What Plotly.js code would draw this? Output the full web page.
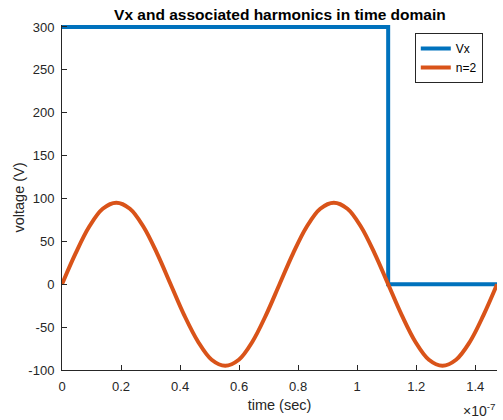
<!DOCTYPE html>
<html>
<head>
<meta charset="utf-8">
<script src="https://cdn.plot.ly/plotly-3.0.1.min.js"></script>
<style>
  html, body { margin: 0; padding: 0; background: #fff; }
  #chart { width: 503px; height: 420px; }
</style>
</head>
<body>
<div id="chart"></div>
<script>
// Time axis is shown in units of 1e-7 s
const timeScale = 1e-7;

// Square wave Vx (time in 1e-7 s, voltage in V)
const vxTime = [0, 1.105, 1.105, 1.474];
const vxVolt = [300, 300, 0, 0];

// Second harmonic (n=2) samples
const h2Time = [0, 0.046, 0.092, 0.138, 0.184, 0.230, 0.276, 0.322, 0.368,
                0.414, 0.461, 0.507, 0.553, 0.599, 0.645, 0.691, 0.737,
                0.783, 0.829, 0.875, 0.921, 0.967, 1.013, 1.059, 1.105,
                1.151, 1.197, 1.243, 1.289, 1.335, 1.382, 1.428, 1.474];
const h2Volt = [0, 36, 67, 88, 95, 88, 67, 36, 0,
                -36, -67, -88, -95, -88, -67, -36, 0,
                36, 67, 88, 95, 88, 67, 36, 0,
                -36, -67, -88, -95, -88, -67, -36, 0];

// Tick labels on both axes
const xTickValues = [0, 0.2, 0.4, 0.6, 0.8, 1.0, 1.2, 1.4];
const xTickLabels = ['0', '0.2', '0.4', '0.6', '0.8', '1', '1.2', '1.4'];
const yTickValues = [-100, -50, 0, 50, 100, 150, 200, 250, 300];
const yTickLabels = ['-100', '-50', '0', '50', '100', '150', '200', '250', '300'];

const toSec = arr => arr.map(v => v * timeScale);

const traces = [
  {
    x: toSec(vxTime), y: vxVolt, name: 'Vx', type: 'scatter', mode: 'lines',
    line: { color: '#0072BD', width: 4 }
  },
  {
    x: toSec(h2Time), y: h2Volt, name: 'n=2', type: 'scatter', mode: 'lines',
    line: { color: '#D95319', width: 4, shape: 'spline', smoothing: 1 }
  }
];

const font = 'Liberation Sans, Arial, Helvetica, sans-serif';

const layout = {
  width: 503, height: 420,
  margin: { l: 62, r: 6, t: 25, b: 50 },
  paper_bgcolor: '#ffffff', plot_bgcolor: '#ffffff',
  font: { family: font, color: '#262626', size: 13 },
  title: {
    text: '<b>Vx and associated harmonics in time domain</b>',
    font: { family: font, size: 15.5, color: '#000000' },
    x: 0.5565, xanchor: 'center', y: 0.965, yanchor: 'middle'
  },
  xaxis: {
    range: [0, 1.4737 * timeScale],
    tickvals: toSec(xTickValues), ticktext: xTickLabels,
    ticks: 'inside', ticklen: 5, tickcolor: '#262626', tickwidth: 1,
    ticklabelstandoff: 4,
    showline: true, linecolor: '#262626', linewidth: 1,
    showgrid: false, zeroline: false,
    tickfont: { size: 13, color: '#262626' },
    title: { text: 'time (sec)', font: { size: 14.5, color: '#262626' }, standoff: 7 }
  },
  yaxis: {
    // a little headroom so the 300 V line is not clipped at the top edge
    range: [-100, 302.3],
    tickvals: yTickValues, ticktext: yTickLabels,
    ticks: 'inside', ticklen: 5, tickcolor: '#262626', tickwidth: 1,
    ticklabelstandoff: 4,
    showline: true, linecolor: '#262626', linewidth: 1,
    showgrid: false, zeroline: false,
    tickfont: { size: 13, color: '#262626' },
    title: { text: 'voltage (V)', font: { size: 14.5, color: '#262626' }, standoff: 0 }
  },
  legend: {
    x: 0.811, y: 0.977, xanchor: 'left', yanchor: 'top',
    bgcolor: '#ffffff', bordercolor: '#262626', borderwidth: 1,
    font: { size: 12, color: '#000000' },
    tracegroupgap: 0
  },
  showlegend: true,
  annotations: [
    {
      xref: 'paper', yref: 'paper', x: 1.0, y: -0.115,
      xanchor: 'right', yanchor: 'middle', showarrow: false,
      text: '\u00d710<sup>-7</sup>', font: { size: 14, color: '#262626' }
    }
  ]
};

Plotly.newPlot('chart', traces, layout, { displayModeBar: false, staticPlot: true });
</script>
</body>
</html>
